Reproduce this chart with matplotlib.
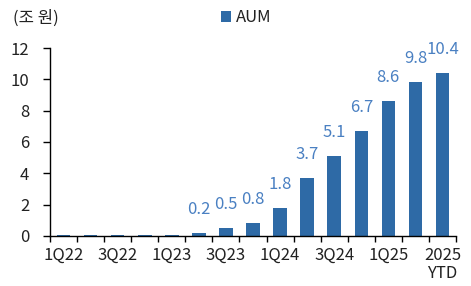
import matplotlib
matplotlib.use("Agg")
import matplotlib.pyplot as plt
from matplotlib.ticker import FixedLocator
import numpy as np

plt.rcParams['font.family'] = ['Noto Sans CJK KR', 'DejaVu Sans']

categories = ["1Q22", "2Q22", "3Q22", "4Q22", "1Q23", "2Q23", "3Q23", "4Q23",
              "1Q24", "2Q24", "3Q24", "4Q24", "1Q25", "2Q25", "2025\nYTD"]
aum = [0.04, 0.04, 0.08, 0.08, 0.09, 0.2, 0.5, 0.8, 1.8, 3.7, 5.1, 6.7, 8.6, 9.8, 10.4]
labeled = [False, False, False, False, False, True, True, True, True, True, True, True, True, True, True]
yticks = [0, 2, 4, 6, 8, 10, 12]

bar_color = "#2e6aa6"
label_color = "#4a80c2"
text_color = "#222222"
fs = 12

fig = plt.figure(figsize=(4.71, 2.86), dpi=100)
ax = fig.add_axes([50/471, 50/286, 406/471, 188/286])

x = np.arange(len(categories))
bars = ax.bar(x, aum, width=0.5, color=bar_color, label="AUM")

for xi, v, show in zip(x, aum, labeled):
    if show:
        ax.annotate(f"{v:.1f}", (xi, v), xytext=(0, 11), textcoords="offset points",
                    ha="center", va="bottom", fontsize=fs, color=label_color)

ax.set_xlim(-0.5, len(categories) - 0.5)
ax.set_ylim(0, 12)
ax.set_yticks(yticks)
ax.set_yticklabels([str(t) for t in yticks])
ax.tick_params(axis="y", direction="out", length=5, width=1, pad=10, labelsize=fs, labelcolor=text_color)

ax.set_xticks(x[::2])
ax.set_xticklabels([categories[i] for i in range(0, len(categories), 2)], linespacing=1.1)
ax.tick_params(axis="x", which="major", length=0, pad=8, labelsize=fs, labelcolor=text_color)
ax.xaxis.set_minor_locator(FixedLocator(np.arange(-0.5, len(categories), 1.0)))
ax.tick_params(axis="x", which="minor", direction="out", length=4, width=1)

for s in ["top", "right"]:
    ax.spines[s].set_visible(False)
ax.spines["left"].set_linewidth(1)
ax.spines["bottom"].set_linewidth(1)

fig.text(13/471, 1 - 18/286, "(조 원)", fontsize=fs, color=text_color, ha="left", va="center")
ax.legend(handles=[bars], labels=["AUM"], loc="center", bbox_to_anchor=(246/471, 1 - 18/286),
          bbox_transform=fig.transFigure, frameon=False, fontsize=fs, handlelength=0.6,
          handleheight=0.6, handletextpad=0.3, borderpad=0, labelcolor=text_color)

fig.savefig("out.png", dpi=100)
